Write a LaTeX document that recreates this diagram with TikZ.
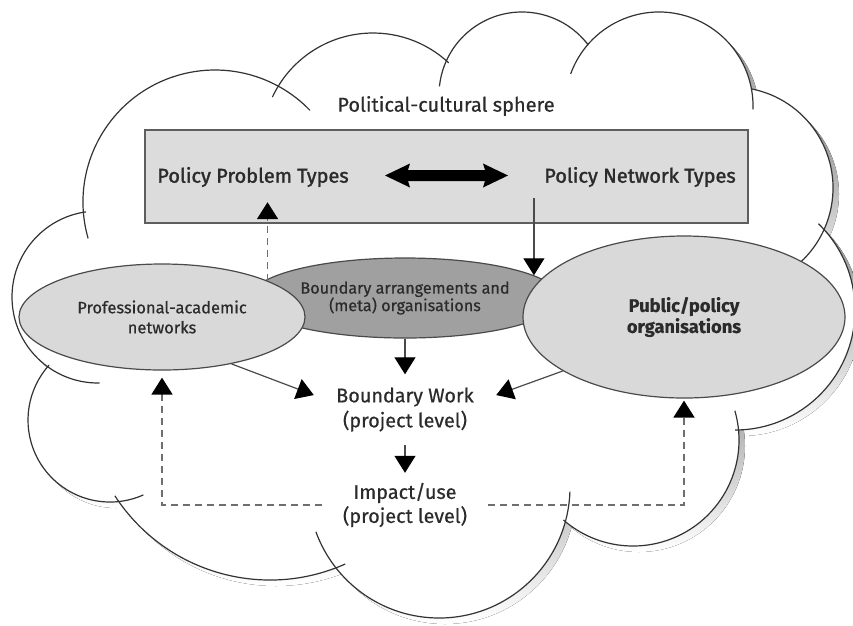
\documentclass[tikz,border=0pt]{standalone}
\usepackage{fontspec}
\setmainfont[FakeBold=0.5]{Fira Sans}
\newfontfamily\medfont[FakeBold=1.6]{Fira Sans}
\usetikzlibrary{shapes.geometric,arrows.meta}

\definecolor{cloudline}{HTML}{333333}
\definecolor{shade}{HTML}{8E8E8E}
\definecolor{boxfill}{HTML}{DCDCDC}
\definecolor{boxline}{HTML}{5E5E5E}
\definecolor{ellfill}{HTML}{D9D9D9}
\definecolor{ellline}{HTML}{4A4A4A}
\definecolor{bndfill}{HTML}{A0A0A0}
\definecolor{ink}{HTML}{2B2B2B}
\definecolor{dashline}{HTML}{6E6E6E}

\tikzset{
  cloudedge/.style={draw=cloudline, line width=1.2pt},
  lbl/.style={text=ink, inner sep=0pt, align=center},
  oval/.style={ellipse, draw=ellline, line width=1.2pt, fill=ellfill,
    text=ink, inner sep=0pt, align=center},
  arr/.style={draw=ellline, line width=1.2pt,
    -{Triangle[width=21pt,length=17pt,black]}},
  dsh/.style={draw=dashline, line width=1.8pt, dash pattern=on 7pt off 5pt,
    -{Triangle[width=21pt,length=17pt,black]}},
}

\begin{document}
\begin{tikzpicture}[x=1pt,y=-1pt]
\useasboundingbox (0,0) rectangle (853,625);

% ---- cloud: shadow, white body, outline arcs ----
\foreach \cx/\cy/\r in {215/202/132,373/144/111,522/95/83,659/106/94,
  732/188/101,735/310/120,633/440/106,439/487/131,270/395/185,
  110/420/82,98/297/86}
  \fill[shade] (\cx+6,\cy+6) circle[radius=\r];
\fill[shade,shift={(6,6)}] (215,202)--(373,144)--(522,95)--(659,106)--(732,188)
  --(735,310)--(633,440)--(439,487)--(270,395)--(110,420)--(98,297)--cycle;

\foreach \cx/\cy/\r in {215/202/132,373/144/111,522/95/83,659/106/94,
  732/188/101,735/310/120,633/440/106,439/487/131,270/395/185,
  110/420/82,98/297/86}
  \fill[white] (\cx,\cy) circle[radius=\r];
\fill[white] (215,202)--(373,144)--(522,95)--(659,106)--(732,188)
  --(735,310)--(633,440)--(439,487)--(270,395)--(110,420)--(98,297)--cycle;

\foreach \cx/\cy/\r/\a/\b in {215/202/132/164/316, 373/144/111/205/313,
  522/95/83/186/323, 659/106/94/200/362, 732/188/101/281/407,
  735/310/120/314/450, 633/440/106/-16/131, 439/487/131/2/160,
  270/395/185/66/147, 110/420/82/66/222, 98/297/86/89/262}
  \draw[cloudedge] (\cx,\cy) ++(\a:\r) arc[start angle=\a, end angle=\b, radius=\r];

% ---- title and policy box ----
\node[lbl, font=\fontsize{20}{22}\selectfont] (title) at (446,106) {Political-cultural sphere};

\node[draw=boxline, line width=1.5pt, fill=boxfill, minimum width=603pt,
  minimum height=93pt, inner sep=0pt] (box) at (446.5,176.5) {};

\node[lbl, minimum height=50pt, font=\medfont\fontsize{20}{22}\selectfont]
  (ppt) at (253,177) {Policy Problem Types};
\node[lbl, minimum height=42pt, font=\medfont\fontsize{20}{22}\selectfont]
  (pnt) at (640,177) {Policy Network Types};

% two-headed arrow between the policy types
\fill[black] (385,175.5) -- (410,163.5) -- (408,170) -- (485,170) -- (483,163.5)
  -- (508,175.5) -- (483,187.5) -- (485,181) -- (408,181) -- (410,187.5) -- cycle;

% ---- organisations ----
\node[oval, fill=bndfill, minimum width=310pt, minimum height=80pt,
  font=\fontsize{16.2}{17.5}\selectfont] (bnd) at (405,298)
  {Boundary arrangements and\\(meta) organisations};
\node[oval, minimum width=286pt, minimum height=106pt,
  font=\fontsize{16.5}{20}\selectfont] (prof) at (162,317)
  {Professional-academic\\networks};
\node[oval, minimum width=322pt, minimum height=162pt,
  font=\bfseries\fontsize{18.3}{21}\selectfont] (pub) at (684,317)
  {Public/policy\\organisations};

% ---- project level ----
\node[lbl, minimum width=182pt, minimum height=70pt,
  font=\fontsize{19.8}{25}\selectfont] (bw) at (405,409.5)
  {Boundary Work\\(project level)};
\node[lbl, minimum width=166pt, minimum height=64pt,
  font=\fontsize{19.8}{24}\selectfont] (imp) at (405,505)
  {Impact/use\\(project level)};

% ---- connectors ----
\draw[arr] (pnt.south -| bnd.10) -- (bnd.10);
\draw[arr] (bnd.south) -- (bw.north);
\draw[arr] (bw.south) -- (imp.north);
\draw[arr] (prof.-34) -- (bw.171);
\draw[arr] (pub.204) -- (bw.9);
\draw[dsh] (prof.19) -- (prof.19 |- ppt.south);
\draw[dsh, shorten >=7pt] (imp.west) -| (prof.south);
\draw[dsh, shorten >=2pt] (imp.east) -| (pub.south);
\end{tikzpicture}
\end{document}
